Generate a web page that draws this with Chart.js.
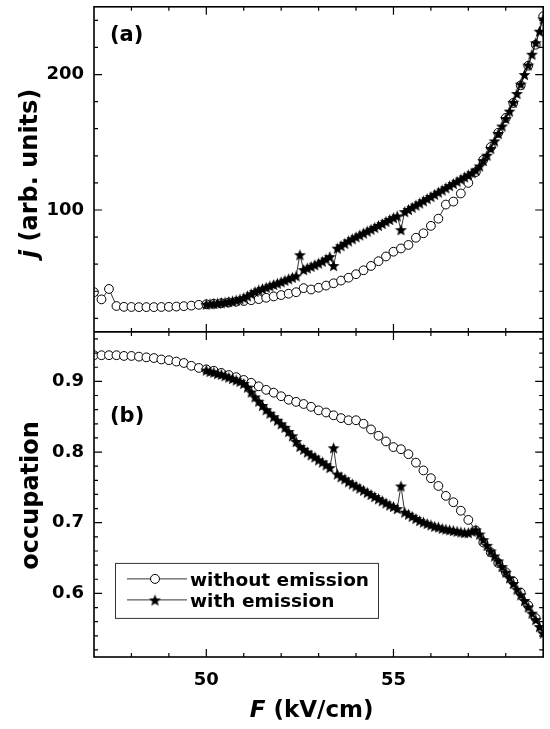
<!DOCTYPE html>
<html>
<head>
<meta charset="utf-8">
<script src="https://cdn.jsdelivr.net/npm/chart.js@4.4.1/dist/chart.umd.min.js"></script>
<style>
  html, body { margin: 0; padding: 0; background: #fff; }
  #wrap { width: 550px; height: 729px; }
</style>
</head>
<body>
<div id="wrap"><canvas id="fieldChart" width="550" height="729"></canvas></div>
<script>
// without emission (open circles), sampled every 0.2 kV/cm
const fWithout = [47.0, 47.2, 47.4, 47.6, 47.8, 48.0, 48.2, 48.4, 48.6, 48.8,
  49.0, 49.2, 49.4, 49.6, 49.8, 50.0, 50.2, 50.4, 50.6, 50.8,
  51.0, 51.2, 51.4, 51.6, 51.8, 52.0, 52.2, 52.4, 52.6, 52.8,
  53.0, 53.2, 53.4, 53.6, 53.8, 54.0, 54.2, 54.4, 54.6, 54.8,
  55.0, 55.2, 55.4, 55.6, 55.8, 56.0, 56.2, 56.4, 56.6, 56.8,
  57.0, 57.2, 57.4, 57.6, 57.8, 58.0, 58.2, 58.4, 58.6, 58.8, 59.0];
const jWithout = [39.3, 34.0, 41.7, 29.1, 28.5, 28.4, 28.3, 28.3, 28.3, 28.4,
  28.5, 28.7, 29.0, 29.4, 30.0, 30.4, 30.8, 31.2, 31.7, 32.3,
  32.8, 33.4, 34.2, 35.2, 36.2, 37.2, 38.2, 39.3, 42.3, 41.3,
  42.6, 44.2, 45.9, 47.9, 50.0, 52.6, 55.5, 58.7, 62.2, 65.7,
  69.2, 71.6, 74.2, 79.5, 82.8, 88.3, 93.6, 104.0, 106.2, 112.2,
  120.0, 128.0, 137.0, 146.5, 157.0, 168.0, 179.0, 192.0, 206.5, 222.0, 243.0];
const occWithout = [0.937, 0.937, 0.937, 0.937, 0.936, 0.936, 0.935, 0.934, 0.933, 0.931,
  0.930, 0.928, 0.926, 0.922, 0.919, 0.917, 0.915, 0.912, 0.909, 0.906,
  0.902, 0.898, 0.893, 0.888, 0.884, 0.879, 0.874, 0.871, 0.868, 0.864,
  0.859, 0.856, 0.852, 0.848, 0.845, 0.845, 0.840, 0.832, 0.823, 0.815,
  0.807, 0.804, 0.797, 0.785, 0.774, 0.763, 0.752, 0.738, 0.729, 0.717,
  0.704, 0.689, 0.672, 0.658, 0.643, 0.630, 0.617, 0.601, 0.583, 0.565, 0.547];

// with emission (filled stars), sampled every 0.1 kV/cm
const fWith = [50.0, 50.1, 50.2, 50.3, 50.4, 50.5, 50.6, 50.7, 50.8, 50.9,
  51.0, 51.1, 51.2, 51.3, 51.4, 51.5, 51.6, 51.7, 51.8, 51.9,
  52.0, 52.1, 52.2, 52.3, 52.4, 52.5, 52.6, 52.7, 52.8, 52.9,
  53.0, 53.1, 53.2, 53.3, 53.4, 53.5, 53.6, 53.7, 53.8, 53.9,
  54.0, 54.1, 54.2, 54.3, 54.4, 54.5, 54.6, 54.7, 54.8, 54.9,
  55.0, 55.1, 55.2, 55.3, 55.4, 55.5, 55.6, 55.7, 55.8, 55.9,
  56.0, 56.1, 56.2, 56.3, 56.4, 56.5, 56.6, 56.7, 56.8, 56.9,
  57.0, 57.1, 57.2, 57.3, 57.4, 57.5, 57.6, 57.7, 57.8, 57.9,
  58.0, 58.1, 58.2, 58.3, 58.4, 58.5, 58.6, 58.7, 58.8, 58.9, 59.0];
const jWith = [30.5, 30.8, 31.0, 31.3, 31.6, 32.0, 32.4, 32.9, 33.5, 34.3,
  35.3, 36.6, 38.2, 39.8, 41.0, 42.0, 43.0, 44.0, 45.0, 46.0,
  47.0, 48.1, 49.2, 50.3, 51.4, 67.0, 56.0, 57.2, 58.4, 59.6,
  60.8, 62.2, 63.8, 65.6, 59.0, 71.8, 73.6, 75.4, 77.2, 78.8,
  80.2, 81.6, 83.0, 84.4, 85.8, 87.2, 88.6, 90.0, 91.6, 93.0,
  94.4, 95.6, 85.5, 98.8, 100.4, 102.0, 103.6, 105.2, 106.8, 108.4,
  110.0, 111.6, 113.2, 114.8, 116.4, 118.0, 119.6, 121.2, 122.8, 124.4,
  126.0, 127.5, 129.5, 132.5, 136.5, 140.5, 145.5, 151.0, 156.5, 162.0,
  167.5, 173.0, 179.5, 186.0, 193.0, 200.0, 207.0, 215.0, 223.5, 232.0, 241.0];
const occWith = [0.916, 0.914, 0.913, 0.911, 0.910, 0.908, 0.906, 0.904, 0.902, 0.900,
  0.897, 0.892, 0.885, 0.878, 0.872, 0.866, 0.860, 0.855, 0.850, 0.845,
  0.840, 0.835, 0.829, 0.823, 0.815, 0.808, 0.804, 0.800, 0.796, 0.793,
  0.789, 0.786, 0.782, 0.778, 0.806, 0.769, 0.765, 0.762, 0.758, 0.755,
  0.752, 0.749, 0.746, 0.743, 0.740, 0.737, 0.734, 0.731, 0.728, 0.725,
  0.723, 0.720, 0.752, 0.715, 0.712, 0.709, 0.706, 0.703, 0.701, 0.699,
  0.697, 0.695, 0.694, 0.692, 0.691, 0.690, 0.689, 0.688, 0.687, 0.686,
  0.686, 0.688, 0.690, 0.684, 0.676, 0.668, 0.660, 0.653, 0.646, 0.638,
  0.630, 0.622, 0.614, 0.606, 0.598, 0.590, 0.581, 0.572, 0.563, 0.553, 0.544];

// ticks (all get a mark, only the labelled ones get text)
const fTicks = [48, 49, 50, 51, 52, 53, 54, 55, 56, 57, 58];
const fTickLabels = [50, 55];
const jTicks = [20, 40, 60, 80, 100, 120, 140, 160, 180, 200, 220, 240];
const jTickLabels = [100, 200];
const occTicks = [0.52, 0.54, 0.56, 0.58, 0.60, 0.62, 0.64, 0.66, 0.68, 0.70, 0.72, 0.74,
  0.76, 0.78, 0.80, 0.82, 0.84, 0.86, 0.88, 0.90, 0.92, 0.94, 0.96];
const occTickLabels = [0.6, 0.7, 0.8, 0.9];

const FONT = 'DejaVu Sans';

function makeStar(outer, inner) {
  const size = Math.ceil(outer * 2) + 2;
  const c = document.createElement('canvas');
  c.width = size;
  c.height = size;
  const g = c.getContext('2d');
  g.fillStyle = '#000';
  g.beginPath();
  for (let k = 0; k < 10; k++) {
    const r = k % 2 === 0 ? outer : inner;
    const a = -Math.PI / 2 + k * Math.PI / 5;
    const px = size / 2 + r * Math.cos(a);
    const py = size / 2 + 0.7 + r * Math.sin(a);
    if (k === 0) g.moveTo(px, py); else g.lineTo(px, py);
  }
  g.closePath();
  g.fill();
  return c;
}
const star = makeStar(6.3, 2.7);

function pairs(xs, ys) {
  return xs.map((x, i) => ({ x: x, y: ys[i] }));
}

function hasLabel(list, v) {
  return list.some(l => Math.abs(l - v) < 1e-6);
}

function drawRuns(ctx, runs, x, y) {
  let total = 0;
  runs.forEach(r => { ctx.font = r[1]; total += ctx.measureText(r[0]).width; });
  let cx = x - total / 2;
  ctx.textAlign = 'left';
  runs.forEach(r => {
    ctx.font = r[1];
    ctx.fillText(r[0], cx, y);
    cx += ctx.measureText(r[0]).width;
  });
}

const circleStyle = {
  borderColor: '#000',
  borderWidth: 0.8,
  pointStyle: 'circle',
  pointRadius: 4.4,
  pointBorderWidth: 1,
  pointBorderColor: '#000',
  pointBackgroundColor: '#fff',
  order: 2
};
const starStyle = {
  borderColor: '#000',
  borderWidth: 0.8,
  pointStyle: star,
  pointRadius: 6,
  order: 1
};

// frame, inward ticks on all sides, axis titles, panel tags and legend
const decorations = {
  id: 'decorations',
  afterDraw(chart) {
    const { ctx, chartArea: area, scales } = chart;
    const sx = scales.x, top = scales.yTop, bot = scales.yBot;
    const mid = bot.top;
    const major = t => t.label !== '' && t.label !== null && t.label !== undefined;
    ctx.save();
    ctx.strokeStyle = '#000';
    ctx.lineWidth = 1.2;
    ctx.beginPath();
    sx.ticks.forEach(t => {
      const px = sx.getPixelForValue(t.value);
      const len = major(t) ? 8 : 4;
      ctx.moveTo(px, area.bottom); ctx.lineTo(px, area.bottom - len);
      ctx.moveTo(px, area.top); ctx.lineTo(px, area.top + len);
      ctx.moveTo(px, mid - len); ctx.lineTo(px, mid + len);
    });
    [top, bot].forEach(s => {
      s.ticks.forEach(t => {
        const py = s.getPixelForValue(t.value);
        const len = major(t) ? 8 : 4;
        ctx.moveTo(area.left, py); ctx.lineTo(area.left + len, py);
        ctx.moveTo(area.right, py); ctx.lineTo(area.right - len, py);
      });
    });
    ctx.stroke();

    ctx.lineWidth = 1.6;
    ctx.strokeRect(area.left, area.top, area.right - area.left, area.bottom - area.top);
    ctx.beginPath();
    ctx.moveTo(area.left, mid);
    ctx.lineTo(area.right, mid);
    ctx.stroke();

    ctx.fillStyle = '#000';
    ctx.textBaseline = 'alphabetic';

    // x title
    drawRuns(ctx, [['F', 'italic bold 23px ' + FONT], [' (kV/cm)', 'bold 23px ' + FONT]],
      (area.left + area.right) / 2 - 7, area.bottom + 60);

    // y titles
    ctx.save();
    ctx.translate(37, (top.top + top.bottom) / 2 + 4);
    ctx.rotate(-Math.PI / 2);
    drawRuns(ctx, [['j', 'italic bold 24px ' + FONT], [' (arb. units)', 'bold 24px ' + FONT]], 0, 0);
    ctx.restore();
    ctx.save();
    ctx.translate(38, (bot.top + bot.bottom) / 2 + 1);
    ctx.rotate(-Math.PI / 2);
    drawRuns(ctx, [['occupation', 'bold 24px ' + FONT]], 0, 0);
    ctx.restore();

    // panel tags
    ctx.font = 'bold 21px ' + FONT;
    ctx.textAlign = 'left';
    ctx.fillText('(a)', area.left + 16, top.top + 34);
    ctx.fillText('(b)', area.left + 16, bot.top + 90);

    // legend
    const lx = area.left + 21, ly = bot.top + 231, lw = 263, lh = 55;
    ctx.fillStyle = '#fff';
    ctx.fillRect(lx, ly, lw, lh);
    ctx.lineWidth = 1;
    ctx.strokeStyle = '#333';
    ctx.strokeRect(lx + 0.5, ly + 0.5, lw, lh);
    const rows = [
      { text: 'without emission', y: ly + 16, circle: true },
      { text: 'with emission', y: ly + 37, circle: false }
    ];
    rows.forEach(r => {
      ctx.strokeStyle = '#333';
      ctx.lineWidth = 1;
      ctx.beginPath();
      ctx.moveTo(lx + 12, r.y);
      ctx.lineTo(lx + 72, r.y);
      ctx.stroke();
      if (r.circle) {
        ctx.beginPath();
        ctx.arc(lx + 40, r.y, 4.5, 0, Math.PI * 2);
        ctx.fillStyle = '#fff';
        ctx.fill();
        ctx.strokeStyle = '#000';
        ctx.stroke();
      } else {
        ctx.drawImage(star, lx + 40 - star.width / 2, r.y - star.height / 2);
      }
      ctx.fillStyle = '#000';
      ctx.font = 'bold 18.5px ' + FONT;
      ctx.textAlign = 'left';
      ctx.fillText(r.text, lx + 75, r.y + 7);
    });
    ctx.restore();
  }
};

function fixedTicks(values) {
  return scale => { scale.ticks = values.map(v => ({ value: v })); };
}

new Chart(document.getElementById('fieldChart'), {
  type: 'line',
  data: {
    datasets: [
      Object.assign({ label: 'with emission', data: pairs(fWith, jWith), yAxisID: 'yTop' }, starStyle),
      Object.assign({ label: 'without emission', data: pairs(fWithout, jWithout), yAxisID: 'yTop' }, circleStyle),
      Object.assign({ label: 'with emission', data: pairs(fWith, occWith), yAxisID: 'yBot' }, starStyle),
      Object.assign({ label: 'without emission', data: pairs(fWithout, occWithout), yAxisID: 'yBot' }, circleStyle)
    ]
  },
  options: {
    responsive: false,
    animation: false,
    devicePixelRatio: 1,
    layout: { padding: { top: 3, right: 1, bottom: 0, left: 0 } },
    plugins: {
      legend: { display: false },
      tooltip: { enabled: false }
    },
    scales: {
      x: {
        type: 'linear',
        position: 'bottom',
        min: 47,
        max: 59,
        afterBuildTicks: fixedTicks(fTicks),
        ticks: {
          autoSkip: false,
          maxRotation: 0,
          padding: 13,
          color: '#000',
          font: { family: FONT, size: 18, weight: 'bold' },
          callback: v => (hasLabel(fTickLabels, v) ? String(v) : '')
        },
        grid: { display: false, drawTicks: false },
        border: { display: false },
        afterFit: s => { s.height = 72; s.paddingLeft = 0; s.paddingRight = 0; }
      },
      yTop: {
        type: 'linear',
        position: 'left',
        stack: 'panels',
        stackWeight: 1,
        weight: 2,
        min: 10,
        max: 250,
        afterBuildTicks: fixedTicks(jTicks),
        ticks: {
          autoSkip: false,
          padding: 10,
          color: '#000',
          font: { family: FONT, size: 18, weight: 'bold' },
          callback: v => (hasLabel(jTickLabels, v) ? String(v) : '')
        },
        grid: { display: false, drawTicks: false },
        border: { display: false },
        afterFit: s => { s.width = 94; s.paddingTop = 0; s.paddingBottom = 0; }
      },
      yBot: {
        type: 'linear',
        position: 'left',
        stack: 'panels',
        stackWeight: 1,
        weight: 1,
        min: 0.51,
        max: 0.97,
        afterBuildTicks: fixedTicks(occTicks),
        ticks: {
          autoSkip: false,
          padding: 10,
          color: '#000',
          font: { family: FONT, size: 18, weight: 'bold' },
          callback: v => (hasLabel(occTickLabels, v) ? v.toFixed(1) : '')
        },
        grid: { display: false, drawTicks: false },
        border: { display: false },
        afterFit: s => { s.width = 94; s.paddingTop = 0; s.paddingBottom = 0; }
      }
    }
  },
  plugins: [decorations]
});
</script>
</body>
</html>
